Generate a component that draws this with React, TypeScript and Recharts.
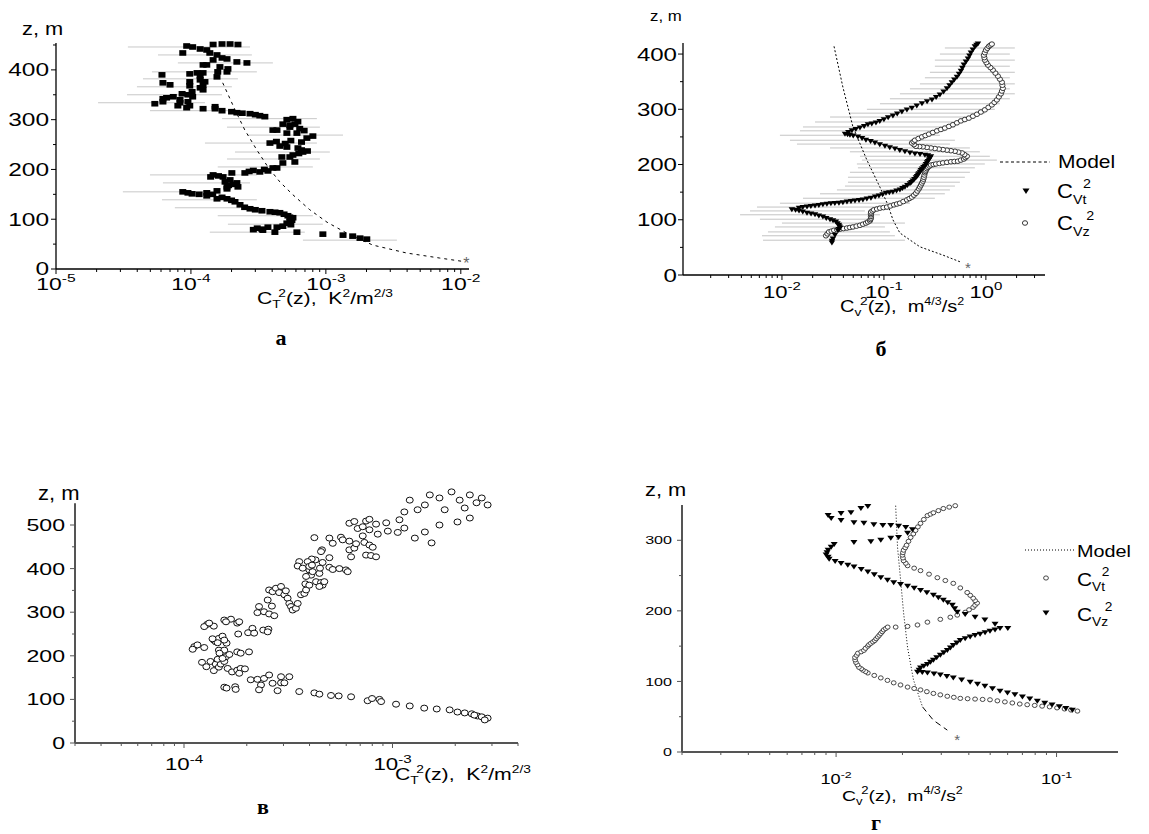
import React from 'react';
import { ScatterChart, Scatter, XAxis, YAxis, ReferenceLine } from 'recharts';

const PAGE_W = 1149;
const PAGE_H = 834;
const SANS = "'Liberation Sans', Arial, Helvetica, sans-serif";
const SERIF = "'Liberation Serif', 'Times New Roman', serif";
const AX_H = 20;
const AX_W = 40;

type P = [number, number];
type Bar = [number, number, number];

// ---------------- Panel а : C_T^2 squares with error bars ----------------
const A_POINTS: P[] = [
  [8.7e-5, 434], [9.3e-5, 448], [1.03e-4, 446], [1.17e-4, 442], [1.31e-4, 440], [1.46e-4, 451], [1.7e-4, 452], [1.95e-4, 452], [2.23e-4, 451],
  [1.38e-4, 434], [1.56e-4, 430], [1.7e-4, 424], [1.85e-4, 422], [1.46e-4, 420], [2.19e-4, 416], [2.6e-4, 414], [1.23e-4, 410], [1.31e-4, 410],
  [1.64e-4, 406], [1.88e-4, 402], [1.85e-4, 396], [1.58e-4, 396], [9.8e-5, 392], [1.11e-4, 394], [1.23e-4, 394], [1.17e-4, 388], [6.1e-5, 390], [1.56e-4, 386],
  [9.8e-5, 376], [1.17e-4, 380], [1.27e-4, 376], [1.23e-4, 370], [6.2e-5, 374], [7.0e-5, 370], [9.8e-5, 368], [1.17e-4, 364], [1.23e-4, 360],
  [1.02e-4, 356], [9.5e-5, 350], [8.6e-5, 352], [7.4e-5, 346], [6.6e-5, 344], [1.03e-4, 346], [8.3e-5, 340], [6.2e-5, 342],
  [5.4e-5, 332], [6.2e-5, 336], [8.3e-5, 334], [9.5e-5, 336], [9.8e-5, 328], [9.3e-5, 324], [8.0e-5, 328], [1.23e-4, 322], [1.51e-4, 322], [1.51e-4, 326],
  [2.19e-4, 314], [2.74e-4, 312], [3.24e-4, 308], [3.53e-4, 306],
  [5.14e-4, 300], [5.7e-4, 302], [4.8e-4, 291], [5.41e-4, 285], [4.34e-4, 279], [6.1e-4, 273], [5.14e-4, 273], [8.01e-4, 267], [7.23e-4, 263],
  [3.85e-4, 253], [4.56e-4, 247], [5.14e-4, 245], [6.21e-4, 243], [6.76e-4, 235], [5.7e-4, 229], [4.72e-4, 225], [5.89e-4, 215], [4.8e-4, 213],
  [4.34e-4, 203], [3.72e-4, 197], [3.24e-4, 195], [2.51e-4, 193], [2.01e-4, 193], [1.46e-4, 189],
  [1.73e-4, 185], [1.95e-4, 179], [1.79e-4, 175], [2.19e-4, 173], [1.85e-4, 165], [2.23e-4, 165], [1.56e-4, 157], [1.85e-4, 161], [1.31e-4, 153],
  [8.7e-5, 155], [1.02e-4, 151], [1.31e-4, 147], [1.56e-4, 141], [1.85e-4, 141], [2.12e-4, 135], [2.31e-4, 129], [2.74e-4, 121], [3.36e-4, 117],
  [3.85e-4, 115], [4.56e-4, 113], [5.23e-4, 107], [5.6e-4, 98], [5.14e-4, 92], [4.34e-4, 84], [3.72e-4, 84], [3.36e-4, 80], [4.19e-4, 74], [6.1e-4, 74],
  [5.7e-4, 103], [5.41e-4, 94], [9.5e-4, 70], [1.34e-3, 68], [1.58e-3, 66], [1.79e-3, 62], [2.01e-3, 60],
  [4.05e-4, 279], [5.41e-4, 289], [5.41e-4, 225], [4.05e-4, 203], [3.41e-4, 78],
  [1.7e-4, 318], [2.0e-4, 316], [2.4e-4, 313], [3.0e-4, 310], [2.9e-4, 198], [2.7e-4, 196], [3.5e-4, 200], [1.45e-4, 150], [1.7e-4, 144],
  [2.0e-4, 138], [2.5e-4, 124], [3.0e-4, 119], [4.2e-4, 114], [4.9e-4, 110], [5.4e-4, 104], [5.5e-4, 89], [4.8e-4, 86], [2.9e-4, 79],
  [3.1e-4, 82], [1.15e-4, 150], [9.5e-5, 153], [1.6e-4, 187], [1.4e-4, 185], [2.05e-4, 170], [1.9e-4, 168], [6.4e-4, 282], [6.9e-4, 278],
  [6.2e-4, 296], [5.9e-4, 291], [6.6e-4, 255], [5.5e-4, 258], [6.3e-4, 232], [6.6e-4, 239], [7.3e-4, 237], [5.0e-4, 252], [4.3e-4, 256],
];
// [z, low, high]
const A_BARS: Bar[] = [
  [446, 3.41e-5, 2.74e-4], [430, 5.7e-5, 2.83e-4], [414, 8.0e-5, 4.05e-4], [396, 5.14e-5, 3.08e-4], [382, 4.41e-5, 2.23e-4],
  [366, 3.98e-5, 2.01e-4], [350, 3.36e-5, 1.7e-4], [334, 2.05e-5, 1.27e-4], [318, 4.97e-5, 1.88e-4], [302, 1.7e-4, 8.58e-4],
  [285, 1.85e-4, 9.03e-4], [269, 2.64e-4, 1.34e-3], [253, 1.27e-4, 8.58e-4], [235, 2.12e-4, 1.07e-3], [221, 1.85e-4, 9.03e-4],
  [205, 1.58e-4, 8.01e-4], [189, 4.97e-5, 3.08e-4], [173, 6.2e-5, 2.74e-4], [155, 3.13e-5, 1.38e-4], [139, 6.1e-5, 3.08e-4],
  [123, 7.6e-5, 2.31e-4], [107, 1.58e-4, 8.01e-4], [90, 1.88e-4, 9.5e-4], [74, 1.38e-4, 6.98e-4], [58, 6.76e-4, 3.36e-3],
];
const A_MODEL: P[] = [
  [1.72e-4, 374], [2.12e-4, 320], [2.51e-4, 279], [3.08e-4, 239], [3.72e-4, 205], [4.56e-4, 175], [5.7e-4, 149],
  [7.6e-4, 119], [1.02e-3, 94], [1.43e-3, 72], [2.23e-3, 48], [3.98e-3, 32], [6.98e-3, 22], [1.05e-2, 15],
];
const A_STAR: P[] = [[1.1e-2, 14]];
const A_X_TICKS = [1e-5, 2e-5, 3e-5, 4e-5, 5e-5, 6e-5, 7e-5, 8e-5, 9e-5, 1e-4, 2e-4, 3e-4, 4e-4, 5e-4, 6e-4, 7e-4, 8e-4, 9e-4, 1e-3, 2e-3, 3e-3, 4e-3, 5e-3, 6e-3, 7e-3, 8e-3, 9e-3, 1e-2];
const A_X_MAJOR = [1e-5, 1e-4, 1e-3, 1e-2];
const A_X_EXP = ['-5', '-4', '-3', '-2'];
const A_Y_TICKS = [0, 50, 100, 150, 200, 250, 300, 350, 400, 450];
const A_Y_MAJOR = [0, 100, 200, 300, 400];

// ---------------- Panel б : C_v^2 ----------------
const B_CVT: P[] = [
  [0.0309, 58], [0.031, 61], [0.0316, 65], [0.0331, 72], [0.0354, 80], [0.0362, 82.5], [0.0371, 85], [0.0366, 87.5], [0.0362, 90], [0.035, 93],
  [0.0338, 96], [0.0317, 98], [0.0296, 100], [0.0272, 102.5], [0.0252, 105], [0.023, 107], [0.0211, 109], [0.0193, 110.5], [0.0176, 112],
  [0.016, 114], [0.0147, 116], [0.0136, 117], [0.0125, 118], [0.0147, 121], [0.016, 122], [0.0176, 123], [0.0192, 124], [0.0211, 125],
  [0.023, 126], [0.0252, 127], [0.0276, 128], [0.0302, 129], [0.033, 129.5], [0.0362, 130], [0.0396, 131], [0.0434, 132], [0.0475, 133],
  [0.052, 134], [0.057, 135], [0.0622, 136], [0.068, 137.5], [0.0746, 139], [0.082, 141], [0.0893, 143], [0.097, 145.5], [0.1047, 148],
  [0.113, 149], [0.1225, 150], [0.133, 152], [0.1435, 154], [0.152, 156.5], [0.1607, 159], [0.17, 162], [0.18, 165], [0.186, 167.5],
  [0.192, 170], [0.199, 173], [0.206, 176], [0.211, 178.5], [0.2155, 181], [0.22, 183.5], [0.2254, 186], [0.23, 189], [0.236, 192],
  [0.244, 194.5], [0.2523, 197], [0.258, 200], [0.264, 203], [0.27, 205.5], [0.276, 208], [0.282, 211], [0.289, 214], [0.27, 216],
  [0.2523, 217], [0.226, 218], [0.2014, 219], [0.18, 221], [0.1607, 223], [0.143, 225.5], [0.1282, 228], [0.114, 230.5], [0.1023, 233],
  [0.091, 236], [0.0816, 239], [0.074, 241.5], [0.0666, 244], [0.061, 247], [0.0556, 250], [0.05, 251.5], [0.0464, 253], [0.044, 254],
  [0.0415, 255], [0.0448, 258], [0.0485, 261], [0.053, 263.5], [0.0582, 266], [0.064, 269], [0.0697, 272], [0.076, 273.5], [0.0835, 275],
  [0.091, 278], [0.1, 281], [0.11, 284.5], [0.1225, 288], [0.135, 291.5], [0.15, 295], [0.168, 298.5], [0.188, 302], [0.21, 306],
  [0.236, 310], [0.265, 313.5], [0.296, 317], [0.325, 321.5], [0.354, 326], [0.385, 331.5], [0.415, 337], [0.44, 342.5], [0.464, 348],
  [0.49, 353], [0.52, 358], [0.545, 363.5], [0.569, 369], [0.588, 374.5], [0.608, 380], [0.637, 385.5], [0.667, 391], [0.69, 396.5],
  [0.713, 402], [0.745, 407.5], [0.78, 413], [0.81, 416], [0.836, 418],
];
const B_CVZ: P[] = [
  [0.027, 71], [0.0279, 74.5], [0.0289, 78], [0.0306, 79.5], [0.0324, 81], [0.0347, 82], [0.0371, 83], [0.0401, 84], [0.0434, 85],
  [0.0464, 86], [0.0497, 87], [0.0538, 88.5], [0.0582, 90], [0.0623, 92], [0.0666, 94], [0.0697, 96], [0.0729, 98], [0.0737, 100.5],
  [0.0746, 103], [0.0746, 106], [0.0746, 109], [0.0746, 111.5], [0.0746, 114], [0.0772, 116], [0.0798, 118], [0.0854, 119.5],
  [0.0914, 121], [0.0989, 122], [0.107, 123], [0.1158, 125], [0.1253, 127], [0.134, 128.5], [0.1435, 130], [0.155, 133], [0.168, 136],
  [0.178, 138.5], [0.188, 141], [0.197, 144.5], [0.206, 148], [0.213, 152], [0.2203, 156], [0.2254, 159.5], [0.2306, 163],
  [0.2357, 166.5], [0.241, 170], [0.2438, 173.5], [0.2466, 177], [0.2494, 181], [0.2523, 185], [0.255, 187.5], [0.258, 190],
  [0.264, 192.5], [0.27, 195], [0.279, 197], [0.289, 199], [0.306, 200], [0.3236, 201], [0.35, 202], [0.379, 203], [0.415, 204],
  [0.454, 205], [0.491, 205.5], [0.531, 206], [0.568, 208], [0.608, 210], [0.63, 212.5], [0.652, 215], [0.616, 218], [0.582, 221],
  [0.538, 222.5], [0.497, 224], [0.454, 225], [0.415, 226], [0.379, 227], [0.346, 228], [0.316, 229], [0.289, 230], [0.264, 231],
  [0.241, 232], [0.223, 232.5], [0.206, 233], [0.197, 236], [0.188, 239], [0.195, 241.5], [0.2014, 244], [0.218, 247], [0.236, 250],
  [0.255, 252.5], [0.276, 255], [0.302, 258], [0.331, 261], [0.362, 263.5], [0.396, 266], [0.434, 269], [0.475, 272], [0.52, 275.5],
  [0.569, 279], [0.622, 281.5], [0.681, 284], [0.746, 287.5], [0.817, 291], [0.893, 295], [0.977, 299], [1.058, 303.5], [1.145, 308],
  [1.212, 312.5], [1.282, 317], [1.341, 322.5], [1.403, 328], [1.435, 333], [1.468, 338], [1.452, 343.5], [1.436, 349], [1.372, 354.5],
  [1.312, 360], [1.24, 365.5], [1.172, 371], [1.108, 375.5], [1.047, 380], [1.011, 384.5], [0.977, 389], [0.966, 393.5], [0.955, 398],
  [0.977, 402.5], [1.0, 407], [1.034, 410.5], [1.07, 414], [1.107, 416], [1.145, 418],
];
const B_BARS: Bar[] = [
  [63, 0.00652, 0.1607], [71, 0.00637, 0.1282], [78, 0.00729, 0.1145], [87, 0.00853, 0.1023], [94, 0.01, 0.1607], [101, 0.00608, 0.0729],
  [109, 0.00388, 0.0914], [116, 0.00486, 0.0651], [123, 0.00569, 0.1145], [130, 0.00955, 0.18], [139, 0.01607, 0.316], [147, 0.0236, 0.396],
  [154, 0.0346, 0.444], [161, 0.0415, 0.497], [168, 0.0444, 0.556], [177, 0.0444, 0.622], [186, 0.0464, 0.697], [194, 0.0556, 0.78],
  [201, 0.0543, 0.977], [208, 0.0608, 1.282], [215, 0.0582, 1.094], [223, 0.0464, 0.873], [230, 0.0296, 0.697], [237, 0.01403, 0.444],
  [244, 0.01198, 0.497], [253, 0.00955, 0.354], [261, 0.01501, 0.396], [268, 0.01607, 0.497], [277, 0.0211, 0.622], [286, 0.0296, 0.78],
  [293, 0.0464, 0.977], [300, 0.0681, 1.225], [310, 0.0914, 1.371], [319, 0.1145, 1.718], [328, 0.1435, 1.923], [337, 0.18, 1.718],
  [346, 0.2254, 1.923], [357, 0.2523, 1.718], [367, 0.2825, 1.923], [378, 0.316, 1.718], [389, 0.316, 1.923], [400, 0.354, 1.718],
  [411, 0.396, 1.923],
];
const B_MODEL: P[] = [
  [0.0324, 414], [0.0396, 340], [0.0497, 268], [0.0681, 208], [0.0914, 159], [0.1094, 127], [0.1225, 100], [0.1435, 76],
  [0.2254, 51], [0.379, 36], [0.556, 24],
];
const B_STAR: P[] = [[0.667, 16]];
const B_X_TICKS = [2e-3, 3e-3, 4e-3, 5e-3, 6e-3, 7e-3, 8e-3, 9e-3, 1e-2, 2e-2, 3e-2, 4e-2, 5e-2, 6e-2, 7e-2, 8e-2, 9e-2, 1e-1, 0.2, 0.3, 0.4, 0.5, 0.6, 0.7, 0.8, 0.9, 1, 2, 3];
const B_X_MAJOR = [1e-2, 1e-1, 1];
const B_X_EXP = ['-2', '-1', '0'];
const B_Y_TICKS = [0, 50, 100, 150, 200, 250, 300, 350, 400];
const B_Y_MAJOR = [0, 100, 200, 300, 400];

// ---------------- Panel в : C_T^2 circles ----------------
const C_POINTS: P[] = [
  [1.56e-4, 128], [1.6e-4, 126], [1.76e-4, 129], [1.77e-4, 123], [2.09e-4, 145], [2.25e-4, 146], [2.42e-4, 148], [2.56e-4, 156],
  [2.34e-4, 133], [2.29e-4, 122], [2.66e-4, 137], [2.81e-4, 120], [2.92e-4, 152], [3.2e-4, 152], [2.92e-4, 138], [3.03e-4, 138],
  [3.57e-4, 118], [4.22e-4, 115], [4.46e-4, 112], [5.07e-4, 109], [5.52e-4, 108], [6.33e-4, 106], [7.6e-4, 97], [7.98e-4, 102],
  [8.66e-4, 100], [8.82e-4, 95], [1.04e-3, 89], [1.21e-3, 85], [1.42e-3, 80], [1.63e-3, 78], [1.88e-3, 76], [2.05e-3, 71],
  [2.22e-3, 69], [2.4e-3, 67], [2.56e-3, 62], [2.68e-3, 60], [2.86e-3, 57], [2.47e-3, 64], [2.77e-3, 53],
  [1.12e-4, 221], [1.16e-4, 225], [1.25e-4, 219], [1.1e-4, 215], [1.22e-4, 185], [1.28e-4, 175], [1.34e-4, 187], [1.42e-4, 181],
  [1.39e-4, 166], [1.47e-4, 174], [1.5e-4, 181], [1.56e-4, 187], [1.59e-4, 198], [1.65e-4, 203], [1.45e-4, 192], [1.47e-4, 213],
  [1.56e-4, 213], [1.6e-4, 229], [1.39e-4, 236], [1.42e-4, 232], [1.47e-4, 240], [1.53e-4, 245], [1.56e-4, 236], [1.45e-4, 230],
  [1.37e-4, 239], [1.48e-4, 206], [1.53e-4, 194], [1.62e-4, 171], [1.7e-4, 163], [1.8e-4, 167], [1.87e-4, 171], [1.96e-4, 170],
  [1.84e-4, 160], [1.8e-4, 209], [1.87e-4, 206], [2.05e-4, 209], [1.82e-4, 250], [1.8e-4, 275], [1.84e-4, 278], [1.68e-4, 284],
  [1.56e-4, 282], [1.59e-4, 278], [1.39e-4, 268], [1.29e-4, 272], [1.25e-4, 267], [1.32e-4, 275], [2.03e-4, 253], [2.13e-4, 263],
  [2.17e-4, 252], [2.4e-4, 259], [2.54e-4, 261], [2.52e-4, 255],
  [2.25e-4, 299], [2.29e-4, 313], [2.42e-4, 301], [2.56e-4, 296], [2.71e-4, 292], [2.64e-4, 314], [2.52e-4, 328], [2.56e-4, 351],
  [2.66e-4, 347], [2.76e-4, 355], [2.86e-4, 345], [2.92e-4, 359], [3.03e-4, 340], [3.08e-4, 349], [3.14e-4, 332], [3.2e-4, 320],
  [3.26e-4, 313], [3.32e-4, 305], [3.44e-4, 309], [3.51e-4, 320], [3.64e-4, 340], [3.78e-4, 343], [3.85e-4, 351], [3.82e-4, 365],
  [3.99e-4, 362], [4.07e-4, 385], [3.99e-4, 397], [3.85e-4, 382], [4.14e-4, 393], [4.27e-4, 420], [4.1e-4, 422], [3.92e-4, 416],
  [3.57e-4, 416], [3.51e-4, 406], [3.71e-4, 401], [3.99e-4, 405], [4.11e-4, 408], [4.3e-4, 370], [4.54e-4, 368], [4.62e-4, 362],
  [4.46e-4, 359], [4.71e-4, 370], [4.46e-4, 389], [4.49e-4, 401], [4.98e-4, 403], [5.17e-4, 398], [5.56e-4, 400], [5.98e-4, 397],
  [6.1e-4, 393], [4.62e-4, 414], [4.98e-4, 425], [4.59e-4, 443], [4.54e-4, 439], [4.98e-4, 470], [5.17e-4, 458], [5.66e-4, 472],
  [5.77e-4, 466], [6.21e-4, 463], [4.22e-4, 471], [6.21e-4, 443], [6.33e-4, 427], [6.56e-4, 447], [6.69e-4, 457], [7.2e-4, 475],
  [7.33e-4, 460], [7.75e-4, 454], [8.04e-4, 449], [7.47e-4, 431], [7.89e-4, 430], [8.34e-4, 427], [6.21e-4, 504], [6.56e-4, 508],
  [6.81e-4, 492], [7.2e-4, 496], [7.47e-4, 509], [7.75e-4, 513], [7.75e-4, 489], [8.34e-4, 502], [8.5e-4, 479], [9.33e-4, 505],
  [9.5e-4, 486], [1.06e-3, 483],
  [1.08e-3, 512], [1.14e-3, 530], [1.21e-3, 557], [1.32e-3, 535], [1.43e-3, 546], [1.51e-3, 569], [1.68e-3, 562], [1.78e-3, 535],
  [1.92e-3, 576], [2.1e-3, 557], [2.22e-3, 539], [2.35e-3, 569], [2.53e-3, 551], [2.68e-3, 562], [2.86e-3, 546], [2.35e-3, 516],
  [2.05e-3, 507], [1.68e-3, 500], [1.43e-3, 484], [1.28e-3, 470], [1.54e-3, 459], [1.14e-3, 493],
];
const C_X_TICKS = [3e-5, 4e-5, 5e-5, 6e-5, 7e-5, 8e-5, 9e-5, 1e-4, 2e-4, 3e-4, 4e-4, 5e-4, 6e-4, 7e-4, 8e-4, 9e-4, 1e-3, 2e-3, 3e-3, 4e-3];
const C_X_MAJOR = [1e-4, 1e-3];
const C_X_EXP = ['-4', '-3'];
const C_Y_TICKS = [0, 50, 100, 150, 200, 250, 300, 350, 400, 450, 500];
const C_Y_MAJOR = [0, 100, 200, 300, 400, 500];
const C_Y_AXIS_TOP = 550;

// ---------------- Panel г : C_v^2 ----------------
const D_CVT: P[] = [
  [0.1244, 58], [0.1163, 59.5], [0.1087, 61], [0.1005, 62.5], [0.093, 64], [0.086, 65], [0.0796, 66], [0.0736, 67], [0.0681, 68],
  [0.063, 69.5], [0.0583, 71], [0.0539, 72.5], [0.0499, 74], [0.0462, 74.5], [0.0427, 75], [0.0395, 75.5], [0.0366, 76], [0.0342, 77.5],
  [0.03195, 79], [0.0297, 81], [0.02763, 83], [0.0258, 85.5], [0.02415, 88], [0.0226, 90], [0.0211, 92], [0.0196, 95], [0.01825, 98],
  [0.0171, 101.5], [0.01595, 105], [0.0149, 108.5], [0.01393, 112], [0.0136, 114], [0.01323, 116], [0.013, 118], [0.01269, 120],
  [0.0125, 123.5], [0.0123, 127], [0.0122, 130.5], [0.01218, 134], [0.0124, 137], [0.01256, 140], [0.013, 142], [0.01337, 144],
  [0.0136, 147], [0.01393, 150], [0.0141, 152], [0.01438, 154], [0.0147, 156], [0.01498, 158], [0.0152, 160.5], [0.01546, 163],
  [0.0157, 165.5], [0.01595, 168], [0.0162, 170.5], [0.01644, 173], [0.0168, 175], [0.01714, 177], [0.01863, 177], [0.0211, 178],
  [0.0234, 180], [0.02596, 184], [0.0297, 188], [0.03297, 191], [0.03545, 194], [0.03852, 198], [0.0401, 201.5], [0.04185, 205],
  [0.0427, 208], [0.04363, 211], [0.0427, 214.5], [0.04185, 218], [0.0406, 222], [0.03933, 226], [0.0366, 232.5], [0.03401, 239],
  [0.0313, 243], [0.0288, 247], [0.0264, 252], [0.02415, 257], [0.0226, 260.5], [0.0211, 264], [0.0207, 267.5], [0.02024, 271],
  [0.0201, 275], [0.02, 279], [0.0201, 282.5], [0.02024, 286], [0.0206, 289.5], [0.02088, 293], [0.0213, 298.5], [0.02178, 304],
  [0.0224, 309], [0.02293, 314], [0.0235, 319], [0.02415, 324], [0.025, 329.5], [0.02596, 335], [0.0268, 337], [0.02763, 339],
  [0.0291, 342], [0.03065, 345], [0.0326, 347], [0.03471, 349],
];
const D_CVZ: P[] = [
  [0.118, 59], [0.1102, 61.5], [0.103, 64], [0.0954, 66.5], [0.0884, 69], [0.0818, 72], [0.0756, 75], [0.07, 78], [0.0647, 81],
  [0.0599, 83.5], [0.0554, 86], [0.0512, 89.5], [0.0473, 93], [0.0438, 96], [0.04056, 99], [0.0371, 102], [0.03401, 105],
  [0.0318, 107], [0.0297, 109], [0.0278, 110.5], [0.02596, 112], [0.0246, 112.5], [0.0234, 113], [0.0238, 116], [0.02415, 119],
  [0.025, 121.5], [0.02596, 124], [0.0268, 127], [0.02763, 130], [0.0286, 133.5], [0.0297, 137], [0.0308, 140.5], [0.03195, 144],
  [0.033, 147.5], [0.03401, 151], [0.0353, 154.5], [0.03656, 158], [0.0385, 160.5], [0.04056, 163], [0.0427, 165], [0.045, 167],
  [0.0474, 169], [0.0499, 171], [0.0526, 173], [0.0554, 175], [0.0601, 175], [0.0526, 181], [0.0473, 187], [0.0427, 191],
  [0.0385, 195], [0.03545, 198], [0.0345, 203], [0.03366, 208], [0.0321, 211.5], [0.03065, 215], [0.0291, 218.5], [0.02763, 222],
  [0.0258, 225.5], [0.02415, 229], [0.0226, 232], [0.0211, 235], [0.0196, 237.5], [0.01825, 240], [0.0171, 243.5], [0.01595, 247],
  [0.0149, 251], [0.01393, 255], [0.013, 258.5], [0.01205, 262], [0.0113, 264.5], [0.01053, 267], [0.0099, 270], [0.0093, 273],
  [0.0092, 276], [0.00901, 279], [0.0091, 282.5], [0.0092, 286], [0.0095, 290], [0.0098, 294], [0.01205, 297], [0.01438, 298],
  [0.01595, 300], [0.0177, 303], [0.0192, 304], [0.0211, 310], [0.0222, 315], [0.0207, 318], [0.0192, 320], [0.0177, 321],
  [0.01629, 321], [0.01483, 322], [0.01337, 324], [0.01205, 325], [0.01053, 328], [0.0095, 331], [0.0092, 335], [0.01053, 338],
  [0.01168, 339], [0.01296, 345], [0.01393, 348],
];
const D_MODEL: P[] = [[0.01863, 349], [0.019, 290], [0.01963, 243], [0.02024, 197], [0.0211, 148], [0.02245, 102], [0.02466, 64]];
const D_MODEL_TAIL: P[] = [[0.02466, 64], [0.02763, 45], [0.03195, 31]];
const D_STAR: P[] = [[0.03545, 20]];
const D_X_TICKS = [2e-3, 3e-3, 4e-3, 5e-3, 6e-3, 7e-3, 8e-3, 9e-3, 1e-2, 2e-2, 3e-2, 4e-2, 5e-2, 6e-2, 7e-2, 8e-2, 9e-2, 1e-1];
const D_X_MAJOR = [1e-2, 1e-1];
const D_X_EXP = ['-2', '-1'];
const D_Y_TICKS = [0, 50, 100, 150, 200, 250, 300];
const D_Y_MAJOR = [0, 100, 200, 300];

// ---------------- helpers ----------------
const toXY = (arr: P[]) => arr.map(([x, z]) => ({ x, z }));

type AxisStyle = {
  color: string; width: number; major: number; minor: number;
  xFont: number; xK: number; xDy: number; yFont: number; yK: number; yGap: number;
};

function xTickRenderer(majors: number[], exps: string[], st: AxisStyle) {
  return (props: any) => {
    const { x, y, payload } = props;
    const v = Number(payload.value);
    const idx = majors.findIndex((m) => Math.abs(v / m - 1) < 1e-6);
    const isMajor = idx >= 0;
    return (
      <g>
        <line x1={x} x2={x} y1={y} y2={y + (isMajor ? st.major : st.minor)} stroke={st.color} strokeWidth={1} />
        {isMajor ? (
          <text transform={`translate(${x} ${y + st.xDy}) scale(${st.xK} 1)`} textAnchor="middle" fontFamily={SANS} fontSize={st.xFont} fill="#000">
            10<tspan fontSize={st.xFont * 0.68} dy={-st.xFont * 0.45}>{exps[idx]}</tspan>
          </text>
        ) : null}
      </g>
    );
  };
}

function yTickRenderer(majors: number[], st: AxisStyle) {
  return (props: any) => {
    const { x, y, payload } = props;
    const v = Number(payload.value);
    const isMajor = majors.indexOf(v) >= 0;
    return (
      <g>
        <line x1={x - (isMajor ? st.major : st.minor)} x2={x} y1={y} y2={y} stroke={st.color} strokeWidth={1} />
        {isMajor ? (
          <text transform={`translate(${x - st.yGap} ${y + st.yFont * 0.36}) scale(${st.yK} 1)`} textAnchor="end" fontFamily={SANS} fontSize={st.yFont} fill="#000">
            {String(v)}
          </text>
        ) : null}
      </g>
    );
  };
}

const noShape = () => <g />;
const squareShape = (p: any) => <rect x={p.cx - 3.5} y={p.cy - 2.8} width={7} height={5.6} fill="#000" />;
const triShape = (w: number, h: number, fill: string) => (p: any) => (
  <path d={`M${p.cx - w / 2},${p.cy - h / 2}L${p.cx + w / 2},${p.cy - h / 2}L${p.cx},${p.cy + h / 2}Z`} fill={fill} />
);
const ringShape = (rx: number, ry: number, sw: number, stroke: string) => (p: any) => (
  <ellipse cx={p.cx} cy={p.cy} rx={rx} ry={ry} fill="#fff" stroke={stroke} strokeWidth={sw} />
);
const starShape = (size: number, fill: string) => (p: any) => (
  <text x={p.cx} y={p.cy + size * 0.45} textAnchor="middle" fontFamily={SANS} fontSize={size} fill={fill}>*</text>
);

type Box = { left: number; right: number; top: number; bottom: number };

function Panel(props: {
  box: Box; xDomain: [number, number]; yDomain: [number, number];
  xTicks: number[]; yTicks: number[]; xMajor: number[]; xExp: string[]; yMajor: number[];
  st: AxisStyle; yAxisLine?: boolean; children: React.ReactNode;
}) {
  const { box, st } = props;
  const showY = props.yAxisLine !== false;
  return (
    <div style={{ position: 'absolute', left: 0, top: 0 }}>
      <ScatterChart
        width={PAGE_W}
        height={PAGE_H}
        margin={{ top: box.top, bottom: PAGE_H - box.bottom - AX_H, left: box.left - AX_W, right: PAGE_W - box.right }}
      >
        <XAxis
          type="number" dataKey="x" scale="log" domain={props.xDomain} ticks={props.xTicks} interval={0}
          height={AX_H} tickSize={0} tickMargin={0} tickLine={false}
          axisLine={{ stroke: st.color, strokeWidth: st.width }}
          tick={xTickRenderer(props.xMajor, props.xExp, st)}
        />
        <YAxis
          type="number" dataKey="z" domain={props.yDomain} ticks={props.yTicks} interval={0}
          width={AX_W} tickSize={0} tickMargin={0} tickLine={false}
          axisLine={showY ? { stroke: st.color, strokeWidth: st.width } : false}
          tick={yTickRenderer(props.yMajor, st)}
        />
        {props.children}
      </ScatterChart>
    </div>
  );
}

function barSeries(bars: Bar[], prefix: string, color: string) {
  return bars.map((b, i) => (
    <Scatter
      key={prefix + i}
      data={[{ x: b[1], z: b[0] }, { x: b[2], z: b[0] }]}
      line={{ stroke: color, strokeWidth: 1 }}
      lineType="joint"
      shape={noShape}
      isAnimationActive={false}
    />
  ));
}

function ST(props: { x: number; y: number; s: number; k?: number; a?: string; children: React.ReactNode }) {
  const k = props.k ?? 1.2;
  return (
    <text transform={`translate(${props.x} ${props.y}) scale(${k} 1)`} fontSize={props.s} textAnchor={props.a ?? 'start'} fontFamily={SANS} fill="#000">
      {props.children}
    </text>
  );
}

const ST_A: AxisStyle = { color: '#000', width: 1.3, major: 5, minor: 3, xFont: 17, xK: 1.35, xDy: 21, yFont: 17.5, yK: 1.4, yGap: 7 };
const ST_B: AxisStyle = { color: '#000', width: 1.3, major: 5, minor: 3, xFont: 17, xK: 1.3, xDy: 23, yFont: 18.5, yK: 1.3, yGap: 6 };
const ST_C: AxisStyle = { color: '#555', width: 2, major: 5, minor: 3, xFont: 16.5, xK: 1.35, xDy: 27, yFont: 16.5, yK: 1.4, yGap: 10 };
const ST_D: AxisStyle = { color: '#555', width: 2, major: 5, minor: 3, xFont: 14, xK: 1.3, xDy: 32, yFont: 11.5, yK: 1.4, yGap: 10 };

export default function App() {
  return (
    <div style={{ position: 'absolute', left: 0, top: 0, width: PAGE_W, height: PAGE_H, background: '#fff', overflow: 'hidden' }}>
      {/* Panel а */}
      <Panel box={{ left: 56, right: 469, top: 43, bottom: 269 }} xDomain={[1e-5, 1.15e-2]} yDomain={[0, 454]}
        xTicks={A_X_TICKS} yTicks={A_Y_TICKS} xMajor={A_X_MAJOR} xExp={A_X_EXP} yMajor={A_Y_MAJOR} st={ST_A}>
        {barSeries(A_BARS, 'ab', '#c8c8c8')}
        <Scatter data={toXY(A_MODEL)} line={{ stroke: '#000', strokeWidth: 1, strokeDasharray: '3 4' }} lineType="joint" shape={noShape} isAnimationActive={false} />
        <Scatter data={toXY(A_POINTS)} shape={squareShape} isAnimationActive={false} />
        <Scatter data={toXY(A_STAR)} shape={starShape(16, '#666')} isAnimationActive={false} />
      </Panel>

      {/* Panel б */}
      <Panel box={{ left: 683, right: 1045, top: 43, bottom: 275 }} xDomain={[1.07e-3, 3.8]} yDomain={[0, 420]}
        xTicks={B_X_TICKS} yTicks={B_Y_TICKS} xMajor={B_X_MAJOR} xExp={B_X_EXP} yMajor={B_Y_MAJOR} st={ST_B}>
        {barSeries(B_BARS, 'bb', '#c4c4c4')}
        <Scatter data={toXY(B_MODEL)} line={{ stroke: '#000', strokeWidth: 1, strokeDasharray: '2 2' }} lineType="joint" shape={noShape} isAnimationActive={false} />
        <Scatter data={toXY(B_CVZ)} shape={ringShape(2.6, 2.3, 0.9, '#222')} isAnimationActive={false} />
        <Scatter data={toXY(B_CVT)} shape={triShape(6.5, 5, '#000')} isAnimationActive={false} />
        <Scatter data={toXY(B_STAR)} shape={starShape(15, '#666')} isAnimationActive={false} />
      </Panel>

      {/* Panel в (plot area taller than the drawn axis so the top of the cloud is not clipped) */}
      <Panel box={{ left: 75, right: 518, top: 481.4, bottom: 743 }} xDomain={[3e-5, 4e-3]} yDomain={[0, 600]}
        xTicks={C_X_TICKS} yTicks={C_Y_TICKS} xMajor={C_X_MAJOR} xExp={C_X_EXP} yMajor={C_Y_MAJOR} st={ST_C} yAxisLine={false}>
        <ReferenceLine segment={[{ x: 3e-5, y: 0 }, { x: 3e-5, y: C_Y_AXIS_TOP }]} stroke="#555" strokeWidth={2} />
        <Scatter data={toXY(C_POINTS)} shape={ringShape(3.5, 3, 1, '#111')} isAnimationActive={false} />
      </Panel>

      {/* Panel г */}
      <Panel box={{ left: 682, right: 1118, top: 505, bottom: 752 }} xDomain={[2e-3, 0.19]} yDomain={[0, 350]}
        xTicks={D_X_TICKS} yTicks={D_Y_TICKS} xMajor={D_X_MAJOR} xExp={D_X_EXP} yMajor={D_Y_MAJOR} st={ST_D}>
        <Scatter data={toXY(D_MODEL)} line={{ stroke: '#000', strokeWidth: 1, strokeDasharray: '1 2' }} lineType="joint" shape={noShape} isAnimationActive={false} />
        <Scatter data={toXY(D_MODEL_TAIL)} line={{ stroke: '#000', strokeWidth: 1, strokeDasharray: '6 4' }} lineType="joint" shape={noShape} isAnimationActive={false} />
        <Scatter data={toXY(D_CVT)} shape={ringShape(2.4, 2.1, 0.9, '#333')} isAnimationActive={false} />
        <Scatter data={toXY(D_CVZ)} shape={triShape(7, 5, '#000')} isAnimationActive={false} />
        <Scatter data={toXY(D_STAR)} shape={starShape(15, '#666')} isAnimationActive={false} />
      </Panel>

      {/* Texts, titles, legends */}
      <svg width={PAGE_W} height={PAGE_H} style={{ position: 'absolute', left: 0, top: 0, pointerEvents: 'none' }}>
        {/* а */}
        <ST x={22} y={35} s={19} k={1.15}>z, m</ST>
        <text transform="translate(257 304) scale(1.25 1)" fontFamily={SANS} fontSize={17} fill="#000">
          C<tspan fontSize={11} dy={4}>T</tspan><tspan fontSize={11} dx={-2} dy={-11}>2</tspan>
          <tspan fontSize={17} dy={7}>{'(z),\u00a0\u00a0K'}</tspan><tspan fontSize={11} dy={-7}>2</tspan>
          <tspan fontSize={17} dy={7}>/m</tspan><tspan fontSize={11} dy={-7}>2/3</tspan>
        </text>
        <text x={281} y={345} textAnchor="middle" fontFamily={SERIF} fontWeight="bold" fontSize={22} fill="#000">а</text>

        {/* б */}
        <ST x={650} y={21} s={14} k={1.2}>z, m</ST>
        <text transform="translate(840 312) scale(1.25 1)" fontFamily={SANS} fontSize={16} fill="#000">
          C<tspan fontSize={11} dy={4}>v</tspan><tspan fontSize={11} dx={-1} dy={-11}>2</tspan>
          <tspan fontSize={16} dy={7}>{'(z),\u00a0\u00a0m'}</tspan><tspan fontSize={10} dy={-7}>4/3</tspan>
          <tspan fontSize={16} dy={7}>/s</tspan><tspan fontSize={10} dy={-7}>2</tspan>
        </text>
        <text x={881} y={356} textAnchor="middle" fontFamily={SERIF} fontWeight="bold" fontSize={22} fill="#000">б</text>
        <line x1={1000} x2={1050} y1={162} y2={162} stroke="#000" strokeWidth={1} strokeDasharray="3 2.5" />
        <ST x={1058} y={168} s={17.5} k={1.2}>Model</ST>
        <path d="M1022.5,188.5L1029.5,188.5L1026,194Z" fill="#000" />
        <text transform="translate(1057 198) scale(1.1 1)" fontFamily={SANS} fontSize={20} fill="#000">
          C<tspan fontSize={13} dy={6}>Vt</tspan><tspan fontSize={13} dx={-3} dy={-16}>2</tspan>
        </text>
        <ellipse cx={1025} cy={223} rx={2.6} ry={2.3} fill="#fff" stroke="#222" strokeWidth={0.9} />
        <text transform="translate(1057 230) scale(1.1 1)" fontFamily={SANS} fontSize={20} fill="#000">
          C<tspan fontSize={13} dy={6}>Vz</tspan><tspan fontSize={13} dx={-3} dy={-16}>2</tspan>
        </text>

        {/* в */}
        <ST x={38} y={500} s={20} k={1.1}>z, m</ST>
        <text transform="translate(395 780) scale(1.25 1)" fontFamily={SANS} fontSize={17} fill="#000">
          C<tspan fontSize={11} dy={4}>T</tspan><tspan fontSize={11} dx={-2} dy={-11}>2</tspan>
          <tspan fontSize={17} dy={7}>{'(z),\u00a0\u00a0K'}</tspan><tspan fontSize={11} dy={-7}>2</tspan>
          <tspan fontSize={17} dy={7}>/m</tspan><tspan fontSize={11} dy={-7}>2/3</tspan>
        </text>
        <text x={263} y={814} textAnchor="middle" fontFamily={SERIF} fontWeight="bold" fontSize={22} fill="#000">в</text>

        {/* г */}
        <ST x={645} y={496} s={19} k={1.15}>z, m</ST>
        <text transform="translate(842 801) scale(1.25 1)" fontFamily={SANS} fontSize={15.5} fill="#000">
          C<tspan fontSize={10.5} dy={4}>v</tspan><tspan fontSize={10.5} dx={-1} dy={-11}>2</tspan>
          <tspan fontSize={15.5} dy={7}>{'(z),\u00a0\u00a0m'}</tspan><tspan fontSize={10} dy={-7}>4/3</tspan>
          <tspan fontSize={15.5} dy={7}>/s</tspan><tspan fontSize={10} dy={-7}>2</tspan>
        </text>
        <text x={876} y={830} textAnchor="middle" fontFamily={SERIF} fontWeight="bold" fontSize={22} fill="#000">г</text>
        <line x1={1025} x2={1075} y1={550} y2={550} stroke="#000" strokeWidth={1} strokeDasharray="1 2" />
        <ST x={1077} y={557} s={16.5} k={1.2}>Model</ST>
        <ellipse cx={1046} cy={578} rx={2.4} ry={2.1} fill="#fff" stroke="#333" strokeWidth={0.9} />
        <text transform="translate(1077 586) scale(1.1 1)" fontFamily={SANS} fontSize={19} fill="#000">
          C<tspan fontSize={12.5} dy={5}>Vt</tspan><tspan fontSize={12.5} dx={-3} dy={-15}>2</tspan>
        </text>
        <path d="M1042.5,610.5L1049.5,610.5L1046,615.5Z" fill="#000" />
        <text transform="translate(1077 621) scale(1.1 1)" fontFamily={SANS} fontSize={19} fill="#000">
          C<tspan fontSize={12.5} dy={5}>Vz</tspan><tspan fontSize={12.5} dx={-3} dy={-15}>2</tspan>
        </text>
      </svg>
    </div>
  );
}
